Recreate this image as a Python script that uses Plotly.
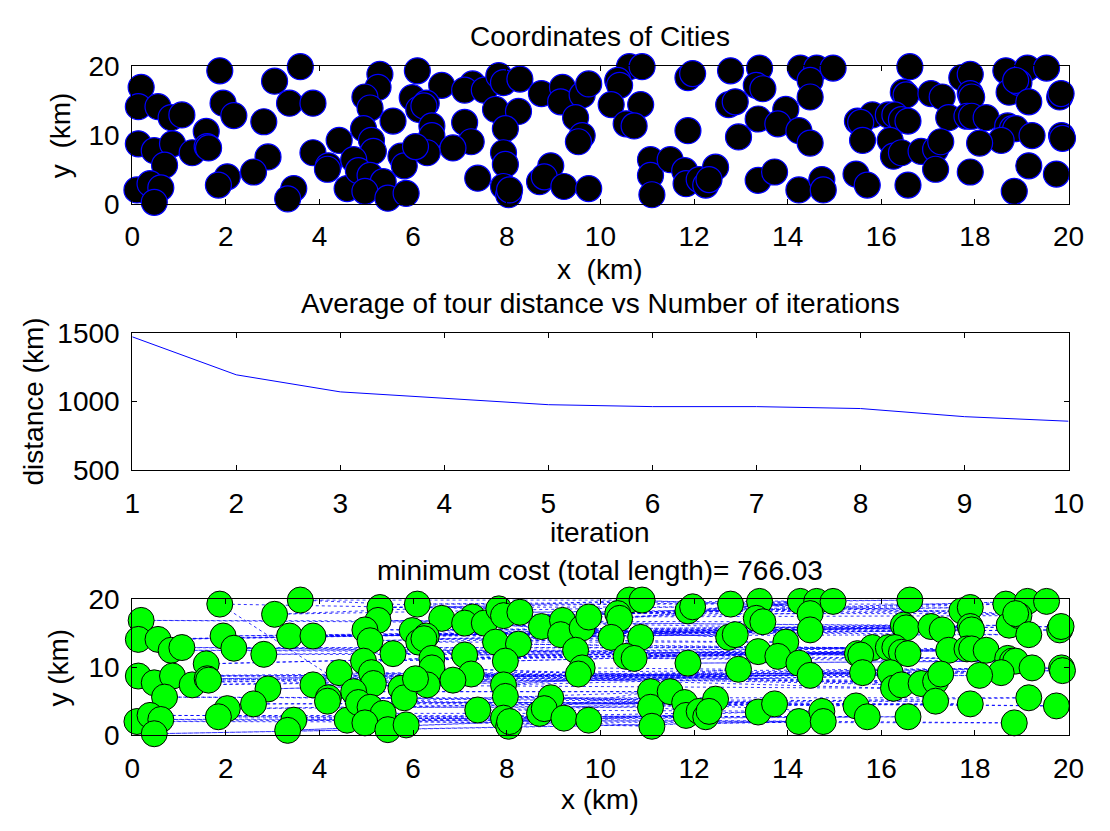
import plotly.graph_objects as go

W, H = 1110, 831

# ---------------- data ----------------
city_x = [
    1.87, 3.59, 3.04, 0.19, 0.13, 0.55, 0.83, 1.06, 1.94, 2.17,
    3.36, 3.86, 2.81, 1.58, 0.13, 0.47, 0.86, 0.69, 1.28, 1.60,
    1.63, 2.90, 2.59, 2.03, 1.84, 0.10, 0.38, 0.61, 0.47, 3.45,
    3.32, 3.86, 4.19, 4.42, 4.59, 5.29, 6.09, 5.25, 4.97, 5.08,
    6.61, 5.98, 6.28, 6.12, 6.23, 5.57, 6.40, 6.40, 7.10, 7.24,
    6.85, 7.27, 7.10, 7.52, 7.83, 7.93, 8.28, 7.76, 8.25, 7.97,
    7.93, 7.97, 7.38, 7.93, 8.04, 8.06, 8.74, 9.19, 9.15, 9.61,
    9.75, 9.47, 9.61, 9.53, 8.94, 8.70, 8.80, 9.22, 9.75, 4.94,
    5.11, 5.15, 4.73, 4.83, 5.08, 5.36, 4.97, 5.46, 5.85, 5.74,
    5.81, 6.30, 6.05, 10.62, 10.89, 10.37, 10.41, 10.23, 10.86, 10.55,
    10.72, 11.87, 11.87, 11.97, 12.78, 13.40, 13.33, 13.47, 12.74, 12.88,
    13.37, 13.96, 13.79, 14.24, 14.48, 12.95, 14.27, 14.62, 14.48, 14.48,
    11.07, 11.07, 11.10, 11.49, 11.80, 11.83, 12.11, 12.25, 12.46, 12.32,
    13.37, 13.72, 14.24, 14.73, 14.76, 14.97, 16.61, 16.47, 16.53, 17.06,
    17.30, 17.72, 17.90, 17.90, 17.93, 18.66, 19.12, 19.53, 18.73, 18.94,
    18.87, 19.15, 19.81, 19.84, 15.49, 15.81, 15.56, 16.15, 16.29, 16.43,
    16.57, 17.44, 17.83, 17.93, 18.24, 18.70, 18.80, 18.87, 19.22, 18.56,
    18.10, 19.85, 19.87, 15.60, 16.19, 16.26, 16.43, 16.85, 17.16, 17.27,
    17.16, 17.90, 19.15, 19.74, 18.84, 16.57, 15.46, 15.70, 4.17,
]
city_y = [
    19.3, 19.9, 17.8, 16.9, 14.1, 14.1, 12.5, 12.9, 14.6, 12.8,
    14.6, 14.6, 11.9, 10.5, 8.7, 7.7, 8.7, 5.6, 7.4, 8.3,
    8.1, 6.8, 4.6, 3.9, 2.7, 2.0, 2.9, 2.3, 0.2, 2.2,
    0.7, 7.4, 5.5, 9.2, 2.2, 18.8, 19.3, 16.9, 15.5, 13.9,
    17.2, 15.4, 14.6, 13.7, 14.2, 12.0, 11.3, 9.9, 11.8, 9.0,
    8.1, 17.4, 16.5, 16.5, 18.6, 17.6, 18.1, 13.7, 13.4, 10.9,
    7.4, 5.7, 3.7, 2.5, 1.3, 2.0, 16.0, 16.9, 14.8, 15.8,
    17.4, 12.5, 9.9, 9.0, 5.5, 3.2, 3.9, 2.5, 2.2, 10.9,
    9.2, 7.6, 6.4, 4.8, 4.1, 3.2, 1.8, 0.8, 1.5, 6.9,
    5.5, 7.4, 8.3, 19.9, 19.9, 17.9, 17.2, 14.4, 14.4, 11.6,
    11.3, 10.6, 18.3, 18.9, 19.3, 19.7, 17.2, 16.7, 14.4, 14.8,
    12.3, 13.7, 11.6, 10.6, 8.8, 9.7, 19.7, 19.7, 17.9, 15.5,
    6.4, 4.1, 1.3, 6.4, 4.8, 2.9, 3.5, 2.7, 5.3, 3.5,
    3.4, 4.6, 2.0, 3.5, 2.0, 19.7, 19.9, 16.2, 15.8, 16.0,
    15.5, 18.3, 18.8, 16.0, 15.5, 19.3, 19.7, 19.7, 16.2, 17.6,
    17.9, 14.8, 15.5, 16.0, 12.0, 12.9, 11.8, 12.9, 12.9, 12.2,
    12.0, 12.5, 12.7, 12.7, 12.5, 11.3, 10.9, 10.9, 9.9, 9.2,
    8.8, 9.9, 9.5, 9.2, 9.2, 6.9, 7.4, 7.6, 7.9, 9.0,
    5.0, 4.6, 5.5, 4.3, 1.8, 2.7, 4.3, 2.7, 5.0,
]

# best tour (1-based city numbers)
tour_order = [
    1, 55, 2, 95, 3, 104, 36, 137, 37, 146, 41, 148, 52, 147, 56, 143, 57, 142,
    71, 150, 94, 151, 96, 136, 97, 118, 103, 117, 105, 119, 106, 107,
    108, 4, 138, 5, 139, 6, 140, 9, 154, 11, 153, 12, 141, 38, 144, 39, 145, 40,
    149, 42, 152, 43, 120, 44, 112, 45, 110, 53, 109, 54, 99, 58, 98, 67, 69, 68, 70,
    72, 7, 155, 8, 156, 10, 157, 13, 158, 14, 159, 46, 160, 47, 161, 49, 162, 59,
    163, 60, 164, 80, 165, 100, 166, 101, 167, 102, 168, 111, 113, 114,
    115, 15, 169, 16, 170, 17, 171, 19, 172, 20, 173, 21, 174, 22, 175, 32, 176,
    34, 177, 48, 178, 50, 179, 51, 180, 61, 116, 73, 74, 81, 82, 90, 92, 93,
    91, 18, 181, 23, 182, 24, 183, 33, 184, 189, 187, 62, 132, 63, 134, 75, 129,
    77, 121, 83, 124, 84, 125, 85, 122, 127, 130,
    128, 25, 185, 26, 186, 27, 188, 28, 135, 29, 133, 30, 131, 31, 126, 35, 123,
    64, 79, 65, 78, 66, 76, 86, 87, 88, 89,
]

iterations = [1, 2, 3, 4, 5, 6, 7, 8, 9, 10]
avg_distance = [1470, 1194, 1070, 1026, 977, 963, 963, 949, 890, 857]

min_cost = 766.03

# ---------------- figure ----------------
FONT = "Liberation Sans, Arial, sans-serif"
FS = 28

def py(px):
    return 1 - px / H

xdom = [127 / W, 1084 / W]
dom_top = [py(196), py(53)]
dom_mid = [py(473), py(330)]
dom_bot = [py(748), py(607)]

fig = go.Figure()

# top: cities
fig.add_trace(go.Scatter(
    x=city_x, y=city_y, mode="markers", xaxis="x", yaxis="y",
    marker=dict(size=26, color="black", line=dict(color="blue", width=1.2)),
    cliponaxis=False, showlegend=False, hoverinfo="skip"))

# middle: average distance
fig.add_trace(go.Scatter(
    x=iterations, y=avg_distance, mode="lines", xaxis="x2", yaxis="y2",
    line=dict(color="blue", width=1), showlegend=False))

# bottom: tour
tx = [city_x[i - 1] for i in tour_order] + [city_x[tour_order[0] - 1]]
ty = [city_y[i - 1] for i in tour_order] + [city_y[tour_order[0] - 1]]
fig.add_trace(go.Scatter(
    x=tx, y=ty, mode="lines", xaxis="x3", yaxis="y3",
    line=dict(color="blue", width=0.8, dash="dot"), showlegend=False,
    hoverinfo="skip"))
fig.add_trace(go.Scatter(
    x=city_x, y=city_y, mode="markers", xaxis="x3", yaxis="y3",
    marker=dict(size=26, color="#00ff00", line=dict(color="black", width=1)),
    cliponaxis=False, showlegend=False, hoverinfo="skip"))

axis_common = dict(
    showline=True, linecolor="black", linewidth=1, mirror="ticks",
    ticks="inside", ticklen=5, tickcolor="black", showgrid=False,
    zeroline=False, tickfont=dict(family=FONT, size=FS, color="black"),
)

fig.update_layout(
    width=W, height=H, margin=dict(l=0, r=0, t=0, b=0),
    paper_bgcolor="white", plot_bgcolor="white",
    font=dict(family=FONT, size=FS, color="black"),
    xaxis=dict(domain=xdom, range=[0, 20], tickvals=list(range(0, 21, 2)),
               anchor="y", ticklabelstandoff=8, **axis_common),
    yaxis=dict(domain=dom_top, range=[0, 20], tickvals=[0, 10, 20],
               anchor="x", ticklabelstandoff=6, **axis_common),
    xaxis2=dict(domain=xdom, range=[1, 10], tickvals=iterations,
                anchor="y2", ticklabelstandoff=8, **axis_common),
    yaxis2=dict(domain=dom_mid, range=[500, 1500], tickvals=[500, 1000, 1500],
                anchor="x2", ticklabelstandoff=6, **axis_common),
    xaxis3=dict(domain=xdom, range=[0, 20], tickvals=list(range(0, 21, 2)),
                anchor="y3", ticklabelstandoff=8, **axis_common),
    yaxis3=dict(domain=dom_bot, range=[0, 20], tickvals=[0, 10, 20],
                anchor="x3", ticklabelstandoff=6, **axis_common),
)

xc = (127 + 1084) / 2 / W

def label(text, xpx_frac, ypx, angle=0):
    fig.add_annotation(text=text, x=xpx_frac, y=py(ypx), xref="paper",
                       yref="paper", showarrow=False, textangle=angle,
                       xanchor="center", yanchor="middle",
                       font=dict(family=FONT, size=FS, color="black"))

label("Coordinates of Cities", xc, 22)
label("x\u00a0 (km)", xc, 264)
label("y\u00a0 (km)", 54 / W, 125, -90)
label("Average of tour distance vs Number of iterations", xc, 300)
label("iteration", xc, 538)
label("distance (km)", 26 / W, 401, -90)
label("minimum cost (total length)= %.2f" % min_cost, xc, 577)
label("x (km)", xc, 815)
label("y (km)", 52 / W, 678, -90)

fig.write_html("out.html", config={"displayModeBar": False},
               post_script="document.body.style.margin='0';")
